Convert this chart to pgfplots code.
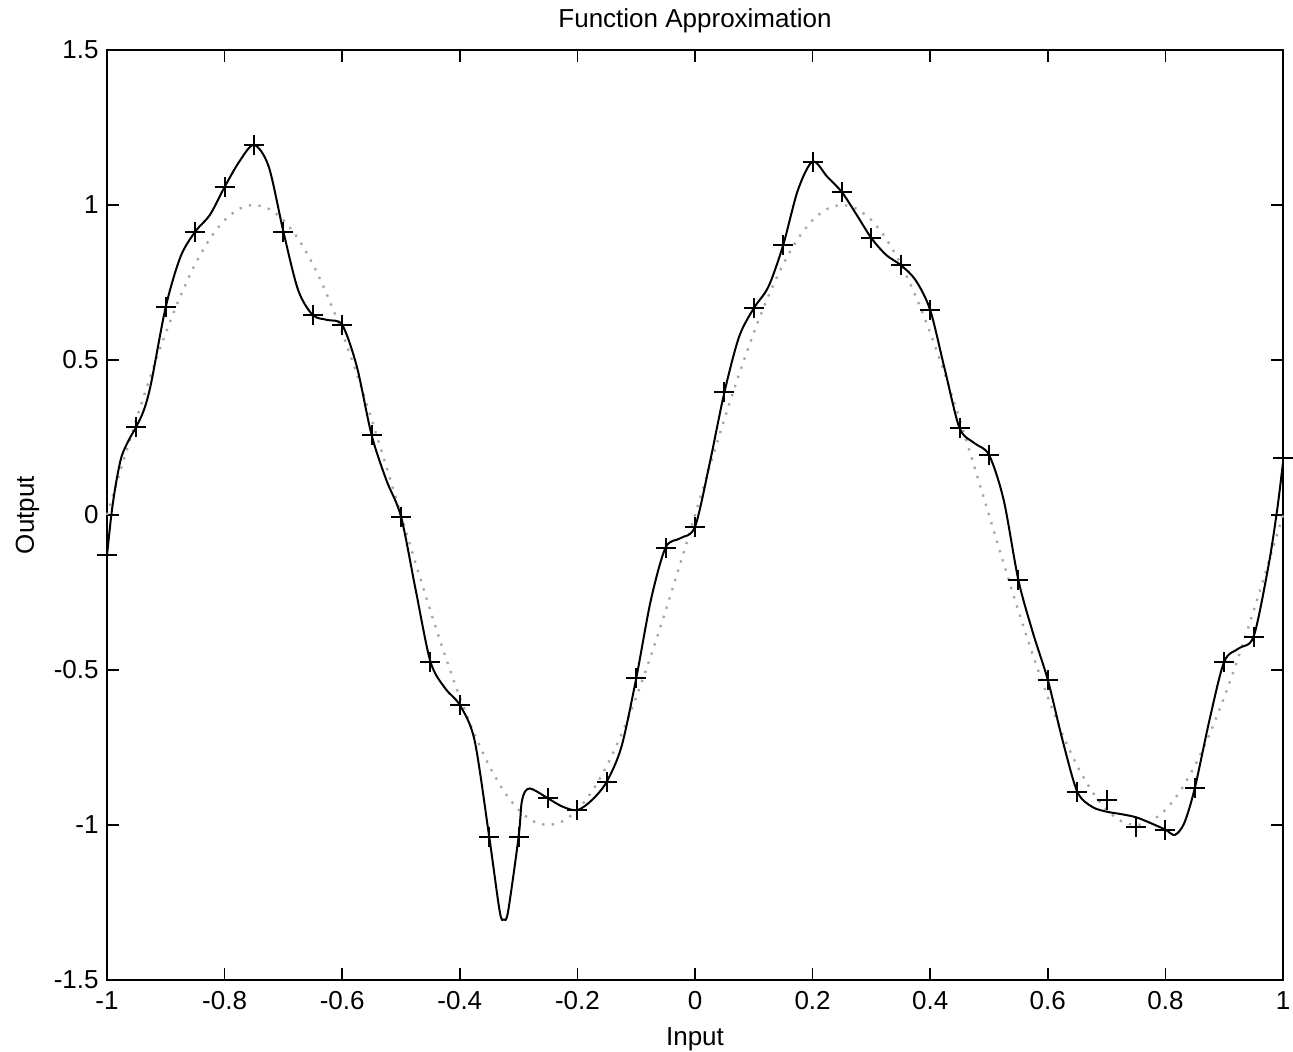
\documentclass[border=0pt]{standalone}
\usepackage{fontspec}
\setmainfont{Liberation Sans}
\usepackage{pgfplots}
\pgfplotsset{compat=1.18}

% noisy training samples (+)
\pgfplotstableread{
x y
-1.00 -0.130
-0.95 0.285
-0.90 0.672
-0.85 0.914
-0.80 1.058
-0.75 1.194
-0.70 0.914
-0.65 0.645
-0.60 0.613
-0.55 0.258
-0.50 -0.005
-0.45 -0.473
-0.40 -0.613
-0.35 -1.038
-0.30 -1.038
-0.25 -0.914
-0.20 -0.952
-0.15 -0.860
-0.10 -0.527
-0.05 -0.105
0.00 -0.038
0.05 0.396
0.10 0.667
0.15 0.871
0.20 1.140
0.25 1.041
0.30 0.893
0.35 0.806
0.40 0.661
0.45 0.280
0.50 0.194
0.55 -0.210
0.60 -0.532
0.65 -0.892
0.70 -0.919
0.75 -1.005
0.80 -1.016
0.85 -0.881
0.90 -0.473
0.95 -0.392
1.00 0.184
}\samples

% network output (solid)
\pgfplotstableread{
x y
-1.000 -0.130
-0.992 0.010
-0.984 0.110
-0.975 0.190
-0.962 0.245
-0.950 0.285
-0.937 0.340
-0.925 0.425
-0.900 0.672
-0.875 0.833
-0.850 0.914
-0.825 0.968
-0.800 1.058
-0.775 1.140
-0.750 1.194
-0.725 1.124
-0.700 0.914
-0.675 0.726
-0.650 0.645
-0.625 0.629
-0.600 0.613
-0.575 0.478
-0.550 0.258
-0.525 0.113
-0.500 -0.005
-0.475 -0.242
-0.450 -0.473
-0.425 -0.559
-0.400 -0.613
-0.375 -0.726
-0.350 -1.038
-0.332 -1.280
-0.325 -1.305
-0.318 -1.280
-0.300 -1.038
-0.295 -0.930
-0.289 -0.892
-0.281 -0.882
-0.269 -0.892
-0.250 -0.914
-0.225 -0.941
-0.200 -0.952
-0.175 -0.919
-0.150 -0.860
-0.125 -0.747
-0.100 -0.527
-0.075 -0.274
-0.050 -0.105
-0.025 -0.075
0.000 -0.038
0.025 0.167
0.050 0.396
0.075 0.575
0.100 0.667
0.125 0.737
0.150 0.871
0.175 1.048
0.200 1.140
0.225 1.091
0.250 1.041
0.275 0.968
0.300 0.893
0.325 0.839
0.350 0.806
0.375 0.758
0.400 0.661
0.425 0.468
0.450 0.280
0.475 0.232
0.500 0.194
0.525 0.048
0.550 -0.210
0.575 -0.382
0.600 -0.532
0.625 -0.726
0.650 -0.892
0.675 -0.941
0.700 -0.957
0.725 -0.965
0.750 -0.975
0.775 -0.994
0.800 -1.015
0.816 -1.032
0.832 -0.994
0.850 -0.881
0.875 -0.661
0.900 -0.473
0.925 -0.430
0.950 -0.392
0.975 -0.167
0.990 0.016
1.000 0.170
}\network

% target function (dotted)
\pgfplotstableread{
x y
-1.000 0.0000
-0.975 0.1564
-0.950 0.3090
-0.925 0.4540
-0.900 0.5878
-0.875 0.7071
-0.850 0.8090
-0.825 0.8910
-0.800 0.9511
-0.775 0.9877
-0.750 1.0000
-0.725 0.9877
-0.700 0.9511
-0.675 0.8910
-0.650 0.8090
-0.625 0.7071
-0.600 0.5878
-0.575 0.4540
-0.550 0.3090
-0.525 0.1564
-0.500 0.0000
-0.475 -0.1564
-0.450 -0.3090
-0.425 -0.4540
-0.400 -0.5878
-0.375 -0.7071
-0.350 -0.8090
-0.325 -0.8910
-0.300 -0.9511
-0.275 -0.9877
-0.250 -1.0000
-0.225 -0.9877
-0.200 -0.9511
-0.175 -0.8910
-0.150 -0.8090
-0.125 -0.7071
-0.100 -0.5878
-0.075 -0.4540
-0.050 -0.3090
-0.025 -0.1564
0.000 0.0000
0.025 0.1564
0.050 0.3090
0.075 0.4540
0.100 0.5878
0.125 0.7071
0.150 0.8090
0.175 0.8910
0.200 0.9511
0.225 0.9877
0.250 1.0000
0.275 0.9877
0.300 0.9511
0.325 0.8910
0.350 0.8090
0.375 0.7071
0.400 0.5878
0.425 0.4540
0.450 0.3090
0.475 0.1564
0.500 0.0000
0.525 -0.1564
0.550 -0.3090
0.575 -0.4540
0.600 -0.5878
0.625 -0.7071
0.650 -0.8090
0.675 -0.8910
0.700 -0.9511
0.725 -0.9877
0.750 -1.0000
0.775 -0.9877
0.800 -0.9511
0.825 -0.8910
0.850 -0.8090
0.875 -0.7071
0.900 -0.5878
0.925 -0.4540
0.950 -0.3090
0.975 -0.1564
1.000 0.0000
}\target

\begin{document}
\begin{tikzpicture}[font=\fontsize{7.8}{9}\selectfont]
\begin{axis}[
    name=ax,
    scale only axis,
    width=352.8pt, height=279pt,
    xmin=-1, xmax=1, ymin=-1.5, ymax=1.5,
    xtick={-1,-0.8,...,1},
    ytick={-1.5,-1,...,1.5},
    tick align=inside,
    major tick length=3.6pt,
    axis line style={line width=0.6pt},
    tick style={line width=0.5pt, black},
    /pgf/number format/assume math mode=true,
    xticklabel style={yshift=0.1pt},
    yticklabel style={xshift=1pt},
    title={Function Approximation},
    xlabel={Input},
    ylabel={Output},
    title style={yshift=-4.5pt},
    xlabel style={yshift=1.5pt},
    ylabel style={yshift=-2.5pt},
    clip=false,
    ]
\addplot[gray!70, line width=0.7pt, dash pattern=on 0.7pt off 2.2pt, smooth] table {\target};
\addplot[black, line width=0.6pt, smooth, tension=0.5] table {\network};
\addplot[only marks, mark=+, mark size=3pt, mark options={line width=0.6pt}] table {\samples};
\end{axis}
\pgfresetboundingbox
\path (ax.south west) ++(-32.1pt,-21.6pt) rectangle ([xshift=3pt,yshift=15pt]ax.north east);
\end{tikzpicture}
\end{document}
